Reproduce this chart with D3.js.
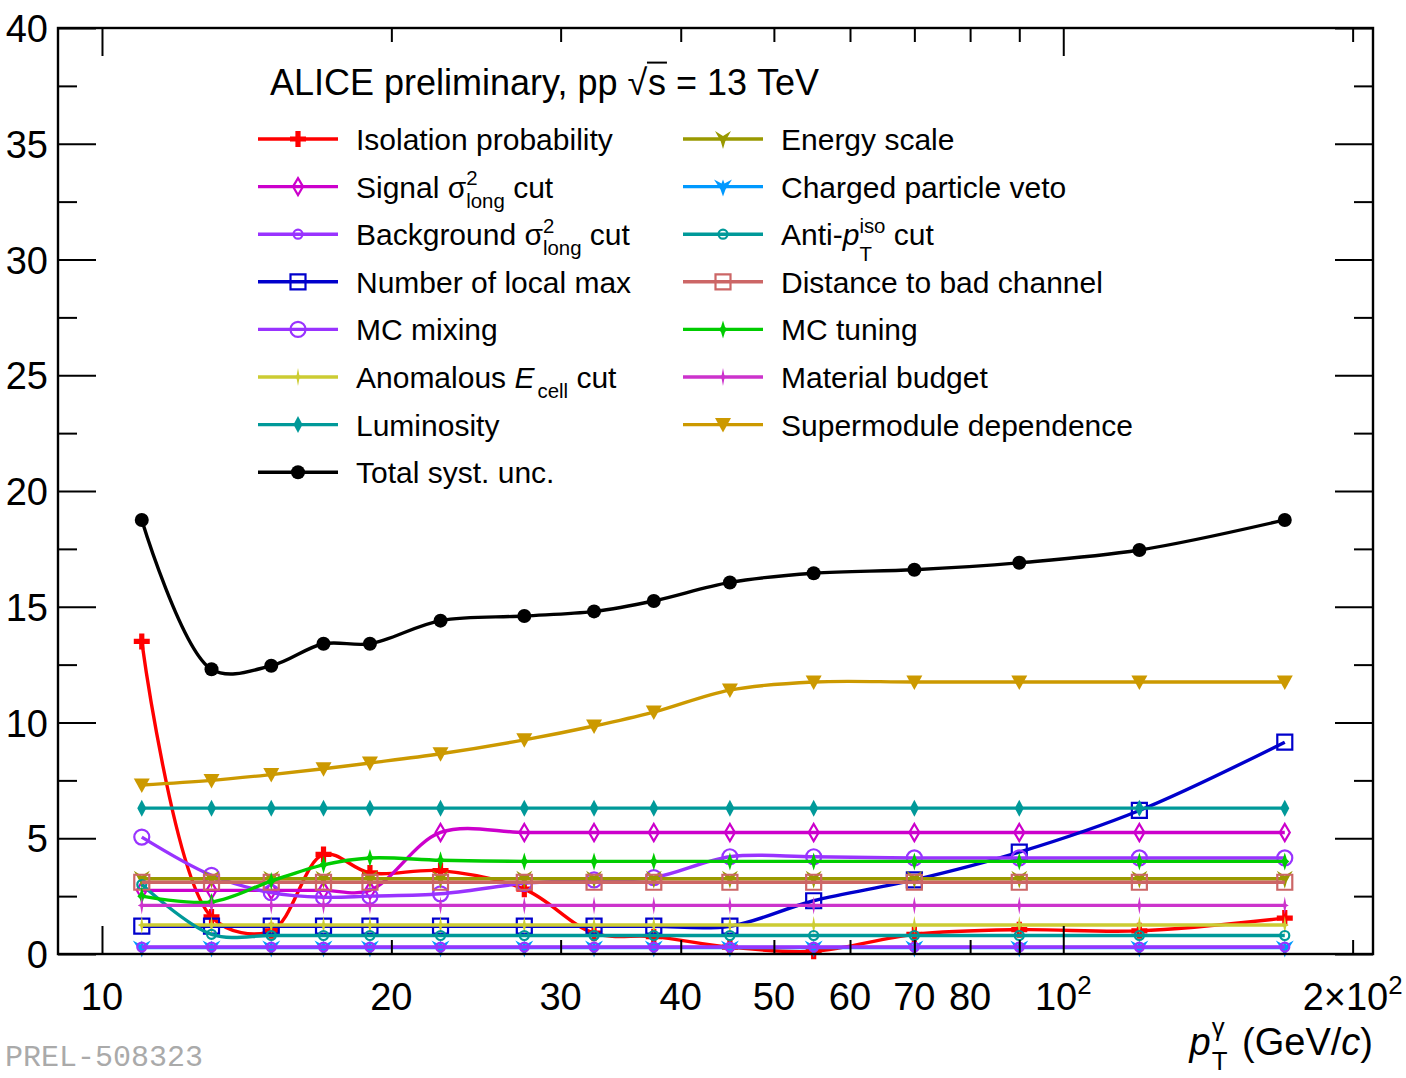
<!DOCTYPE html>
<html>
<head>
<meta charset="utf-8">
<script src="https://cdn.jsdelivr.net/npm/d3@7"></script>
<style>
  body { margin: 0; background: #fff; }
  svg { display: block; font-family: "Liberation Sans", Arial, sans-serif; }
</style>
</head>
<body>
<svg id="chart" width="1406" height="1078"></svg>
<script>
// bin centres in GeV/c
const ptBins = [11, 13, 15, 17, 19, 22.5, 27.5, 32.5, 37.5, 45, 55, 70, 90, 120, 170];

// relative systematic uncertainties (%)
const isolationProb   = [13.5, 1.6, 1.0, 4.3, 3.5, 3.6, 2.8, 0.9, 0.75, 0.3, 0.12, 0.85, 1.05, 1.0, 1.55];
const signalSigma     = [2.75, 2.75, 2.75, 2.75, 2.75, 5.25, 5.25, 5.25, 5.25, 5.25, 5.25, 5.25, 5.25, 5.25, 5.25];
const backgroundSigma = [0.3, 0.3, 0.3, 0.3, 0.3, 0.3, 0.3, 0.3, 0.3, 0.3, 0.3, 0.3, 0.3, 0.3, 0.3];
const localMax        = [1.2, 1.2, 1.2, 1.2, 1.2, 1.2, 1.2, 1.2, 1.2, 1.2, 2.3, 3.2, 4.4, 6.2, 9.15];
const mcMixing        = [5.05, 3.4, 2.65, 2.45, 2.5, 2.6, 3.05, 3.2, 3.3, 4.2, 4.2, 4.15, 4.15, 4.15, 4.15];
const anomalousEcell  = [1.25, 1.25, 1.25, 1.25, 1.25, 1.25, 1.25, 1.25, 1.25, 1.25, 1.25, 1.25, 1.25, 1.25, 1.25];
const luminosity      = [6.3, 6.3, 6.3, 6.3, 6.3, 6.3, 6.3, 6.3, 6.3, 6.3, 6.3, 6.3, 6.3, 6.3, 6.3];
const totalSyst       = [18.75, 12.3, 12.45, 13.4, 13.4, 14.4, 14.6, 14.8, 15.25, 16.05, 16.45, 16.6, 16.9, 17.45, 18.75];
const energyScale     = [3.25, 3.25, 3.25, 3.25, 3.25, 3.25, 3.25, 3.25, 3.25, 3.25, 3.25, 3.25, 3.25, 3.25, 3.25];
const chargedVeto     = [0.28, 0.28, 0.28, 0.28, 0.28, 0.28, 0.28, 0.28, 0.28, 0.28, 0.28, 0.28, 0.28, 0.28, 0.28];
const antiIso         = [3.0, 0.85, 0.8, 0.8, 0.8, 0.8, 0.8, 0.8, 0.8, 0.8, 0.8, 0.8, 0.8, 0.8, 0.8];
const distBadChannel  = [3.1, 3.1, 3.1, 3.1, 3.1, 3.1, 3.1, 3.1, 3.1, 3.1, 3.1, 3.1, 3.1, 3.1, 3.1];
const mcTuning        = [2.5, 2.25, 3.15, 3.85, 4.15, 4.05, 4.0, 4.0, 4.0, 4.0, 4.0, 4.0, 4.0, 4.0, 4.0];
const materialBudget  = [2.1, 2.1, 2.1, 2.1, 2.1, 2.1, 2.1, 2.1, 2.1, 2.1, 2.1, 2.1, 2.1, 2.1, 2.1];
const supermodule     = [7.3, 7.5, 7.75, 8.0, 8.25, 8.65, 9.25, 9.85, 10.45, 11.4, 11.75, 11.75, 11.75, 11.75, 11.75];

const yMajorTicks = [0, 5, 10, 15, 20, 25, 30, 35, 40];
const yMinorTicks = [2.5, 7.5, 12.5, 17.5, 22.5, 27.5, 32.5, 37.5];
const xMajorTicks = [10, 100];
const xMinorTicks = [20, 30, 40, 50, 60, 70, 80, 90, 200];
const xTickLabels = [
    { v: 10, parts: [{ t: '10' }] },
    { v: 20, parts: [{ t: '20' }] },
    { v: 30, parts: [{ t: '30' }] },
    { v: 40, parts: [{ t: '40' }] },
    { v: 50, parts: [{ t: '50' }] },
    { v: 60, parts: [{ t: '60' }] },
    { v: 70, parts: [{ t: '70' }] },
    { v: 80, parts: [{ t: '80' }] },
    { v: 100, parts: [{ t: '10' }, { sup: '2' }] },
    { v: 200, parts: [{ t: '2\u00d710' }, { sup: '2' }] }
];

// marker shapes, centred on 0,0
const markers = {
    cross: { d: 'M-2.6,-8H2.6V-2.6H8V2.6H2.6V8H-2.6V2.6H-8V-2.6H-2.6Z', fill: true },
    diamondOpen: { d: 'M0,-8.5L5,0L0,8.5L-5,0Z', fill: false },
    circleSmall: { r: 4.5, fill: false },
    circleBig: { r: 7.5, fill: false },
    square: { d: 'M-7.5,-7.5H7.5V7.5H-7.5Z', fill: false },
    starThin: { d: 'M0,-9L1.4,-1.4L4,0L1.4,1.4L0,9L-1.4,1.4L-4,0L-1.4,-1.4Z', fill: true },
    diamondFilled: { d: 'M0,-8.5L4.5,0L0,8.5L-4.5,0Z', fill: true },
    diamondTuning: { d: 'M0,-9L2,-2.5L4.5,0L2,2.5L0,9L-2,2.5L-4.5,0L-2,-2.5Z', fill: true },
    dot: { r: 7, fill: true },
    arrowStar: { d: 'M0,10L2.2,2.5L8,-8L0,-3L-8,-8L-2.2,2.5Z', fill: true },
    arrowStarWide: { d: 'M0,10L2.5,3L9,-7L1.5,-3L0,-7L-1.5,-3L-9,-7L-2.5,3Z', fill: true },
    triDown: { d: 'M-8,-6.5H8L0,8Z', fill: true }
};

const series = {
    iso: { values: isolationProb, color: '#ff0000', marker: 'cross' },
    signal: { values: signalSigma, color: '#cc00cc', marker: 'diamondOpen' },
    background: { values: backgroundSigma, color: '#9933ff', marker: 'circleSmall' },
    nlm: { values: localMax, color: '#0000cc', marker: 'square' },
    mixing: { values: mcMixing, color: '#9933ff', marker: 'circleBig' },
    anomalous: { values: anomalousEcell, color: '#cccc33', marker: 'starThin' },
    lumi: { values: luminosity, color: '#009999', marker: 'diamondFilled' },
    total: { values: totalSyst, color: '#000000', marker: 'dot' },
    escale: { values: energyScale, color: '#999900', marker: 'arrowStar' },
    veto: { values: chargedVeto, color: '#0099ff', marker: 'arrowStarWide' },
    antiiso: { values: antiIso, color: '#009999', marker: 'circleSmall' },
    badch: { values: distBadChannel, color: '#cc6666', marker: 'square' },
    tuning: { values: mcTuning, color: '#00cc00', marker: 'diamondTuning' },
    material: { values: materialBudget, color: '#cc33cc', marker: 'starThin' },
    sm: { values: supermodule, color: '#cc9900', marker: 'triDown' }
};

const drawOrder = ['iso', 'signal', 'veto', 'background', 'nlm', 'mixing', 'anomalous', 'lumi',
    'escale', 'antiiso', 'badch', 'tuning', 'material', 'sm', 'total'];

const legendLeft = [
    { key: 'iso', parts: [{ t: 'Isolation probability' }] },
    { key: 'signal', parts: [{ t: 'Signal \u03c3' }, { sup: '2', sub: 'long' }, { t: ' cut' }] },
    { key: 'background', parts: [{ t: 'Background \u03c3' }, { sup: '2', sub: 'long' }, { t: ' cut' }] },
    { key: 'nlm', parts: [{ t: 'Number of local max' }] },
    { key: 'mixing', parts: [{ t: 'MC mixing' }] },
    { key: 'anomalous', parts: [{ t: 'Anomalous ' }, { t: 'E', italic: true }, { sub: 'cell', gap: 0.1 }, { t: ' cut' }] },
    { key: 'lumi', parts: [{ t: 'Luminosity' }] },
    { key: 'total', parts: [{ t: 'Total syst. unc.' }] }
];
const legendRight = [
    { key: 'escale', parts: [{ t: 'Energy scale' }] },
    { key: 'veto', parts: [{ t: 'Charged particle veto' }] },
    { key: 'antiiso', parts: [{ t: 'Anti-' }, { t: 'p', italic: true }, { sup: 'iso', sub: 'T', subDy: 0.52 }, { t: ' cut' }] },
    { key: 'badch', parts: [{ t: 'Distance to bad channel' }] },
    { key: 'tuning', parts: [{ t: 'MC tuning' }] },
    { key: 'material', parts: [{ t: 'Material budget' }] },
    { key: 'sm', parts: [{ t: 'Supermodule dependence' }] }
];

// writes a label made of plain, italic, super- and subscript pieces
function richText(parent, x, y, parts, size, anchor) {
    const g = parent.append('g');
    let cx = 0;
    parts.forEach(p => {
        if (p.t !== undefined) {
            const t = g.append('text')
                .attr('x', cx).attr('y', 0)
                .attr('font-size', size)
                .attr('font-style', p.italic ? 'italic' : null)
                .text(p.t.replace(/ /g, '\u00a0'));
            const w = t.node().getComputedTextLength();
            if (p.over) {
                g.append('line')
                    .attr('x1', cx - 1).attr('x2', cx + w + 1)
                    .attr('y1', -size * 0.9).attr('y2', -size * 0.9)
                    .attr('stroke', '#000').attr('stroke-width', 2);
            }
            cx += w + (p.after || 0) * size;
        } else {
            let w = 0;
            const x0 = cx + (p.gap || 0) * size;
            if (p.sup) {
                const s = g.append('text')
                    .attr('x', x0).attr('y', -size * (p.supDy || 0.42))
                    .attr('font-size', size * 0.68)
                    .text(p.sup);
                w = Math.max(w, s.node().getComputedTextLength());
            }
            if (p.sub) {
                const s = g.append('text')
                    .attr('x', x0).attr('y', size * (p.subDy || 0.33))
                    .attr('font-size', size * 0.68)
                    .text(p.sub);
                w = Math.max(w, s.node().getComputedTextLength());
            }
            cx = x0 + w + (p.after || 0) * size;
        }
    });
    let x0 = x;
    if (anchor === 'end') x0 = x - cx;
    if (anchor === 'middle') x0 = x - cx / 2;
    g.attr('transform', `translate(${x0},${y})`);
    return g;
}

function drawMarker(parent, cx, cy, name, color) {
    const m = markers[name];
    const el = m.r !== undefined
        ? parent.append('circle').attr('cx', cx).attr('cy', cy).attr('r', m.r)
        : parent.append('path').attr('d', m.d).attr('transform', `translate(${cx},${cy})`);
    if (m.fill) {
        el.attr('fill', color);
    } else {
        el.attr('fill', 'none').attr('stroke', color).attr('stroke-width', 2.2);
    }
}

document.addEventListener('DOMContentLoaded', () => {
    const svg = d3.select('#chart');
    const frame = { left: 58, top: 28, right: 1373, bottom: 954 };

    const x = d3.scaleLog()
        .domain([9, 210])
        .range([frame.left, frame.right]);

    const y = d3.scaleLinear()
        .domain([0, 40])
        .range([frame.bottom, frame.top]);

    svg.append('rect')
        .attr('width', 1406).attr('height', 1078)
        .attr('fill', '#fff');

    // curves and markers
    const plot = svg.append('g');
    const line = d3.line()
        .x(d => x(d.pt))
        .y(d => y(d.v))
        .curve(d3.curveCatmullRom.alpha(0.5));

    drawOrder.forEach(key => {
        const s = series[key];
        const pts = ptBins.map((pt, i) => ({ pt: pt, v: s.values[i] }));
        plot.append('path')
            .datum(pts)
            .attr('d', line)
            .attr('fill', 'none')
            .attr('stroke', s.color)
            .attr('stroke-width', 3.4);
        pts.forEach(p => drawMarker(plot, x(p.pt), y(p.v), s.marker, s.color));
    });

    // axes, ticks point into the frame
    const tickStyle = g => {
        g.select('.domain').remove();
        g.selectAll('.tick line').attr('stroke', '#000').attr('stroke-width', 2);
    };

    svg.append('g')
        .attr('transform', `translate(${frame.left},0)`)
        .call(d3.axisLeft(y).tickValues(yMajorTicks).tickSizeInner(-38).tickPadding(10))
        .call(tickStyle)
        .call(g => g.selectAll('.tick text')
            .attr('font-size', 38)
            .attr('font-family', '"Liberation Sans", Arial, sans-serif')
            .attr('fill', '#000')
            .attr('dy', '0.36em'));

    svg.append('g')
        .attr('transform', `translate(${frame.left},0)`)
        .call(d3.axisLeft(y).tickValues(yMinorTicks).tickSizeInner(-19).tickFormat(''))
        .call(tickStyle);

    svg.append('g')
        .attr('transform', `translate(${frame.right},0)`)
        .call(d3.axisRight(y).tickValues(yMajorTicks).tickSizeInner(-38).tickFormat(''))
        .call(tickStyle);

    svg.append('g')
        .attr('transform', `translate(${frame.right},0)`)
        .call(d3.axisRight(y).tickValues(yMinorTicks).tickSizeInner(-19).tickFormat(''))
        .call(tickStyle);

    [[xMajorTicks, -28], [xMinorTicks, -14]].forEach(([vals, len]) => {
        svg.append('g')
            .attr('transform', `translate(0,${frame.bottom})`)
            .call(d3.axisBottom(x).tickValues(vals).tickSizeInner(len).tickFormat(''))
            .call(tickStyle);
        svg.append('g')
            .attr('transform', `translate(0,${frame.top})`)
            .call(d3.axisTop(x).tickValues(vals).tickSizeInner(len).tickFormat(''))
            .call(tickStyle);
    });

    svg.append('rect')
        .attr('x', frame.left).attr('y', frame.top)
        .attr('width', frame.right - frame.left)
        .attr('height', frame.bottom - frame.top)
        .attr('fill', 'none')
        .attr('stroke', '#000')
        .attr('stroke-width', 2.4);

    xTickLabels.forEach(l => richText(svg, x(l.v), 1010, l.parts, 38, 'middle'));

    richText(svg, frame.right, 1055, [
        { t: 'p', italic: true },
        { sup: '\u03b3', sub: 'T', supDy: 0.5, subDy: 0.4, gap: 0.03, after: 0.38 },
        { t: '(GeV/' }, { t: 'c', italic: true }, { t: ')' }
    ], 38, 'end');

    // header and legend
    richText(svg, 270, 95, [
        { t: 'ALICE preliminary, pp ' }, { t: '\u221a', after: 0.02 }, { t: 's', over: true }, { t: ' = 13 TeV' }
    ], 36, 'start');

    const rowY = i => 139 + i * 47.6;
    const legend = svg.append('g');
    [[legendLeft, 258], [legendRight, 683]].forEach(([entries, x0]) => {
        entries.forEach((e, i) => {
            const s = series[e.key];
            const cy = rowY(i);
            legend.append('line')
                .attr('x1', x0).attr('x2', x0 + 80)
                .attr('y1', cy).attr('y2', cy)
                .attr('stroke', s.color)
                .attr('stroke-width', 3.4);
            drawMarker(legend, x0 + 40, cy, s.marker, s.color);
            richText(legend, x0 + 98, cy + 11, e.parts, 30, 'start');
        });
    });

    svg.append('text')
        .attr('x', 5).attr('y', 1066)
        .attr('font-family', '"Liberation Mono", "DejaVu Sans Mono", monospace')
        .attr('font-size', 30)
        .attr('fill', '#aaaaaa')
        .text('PREL-508323');
});
</script>
</body>
</html>
